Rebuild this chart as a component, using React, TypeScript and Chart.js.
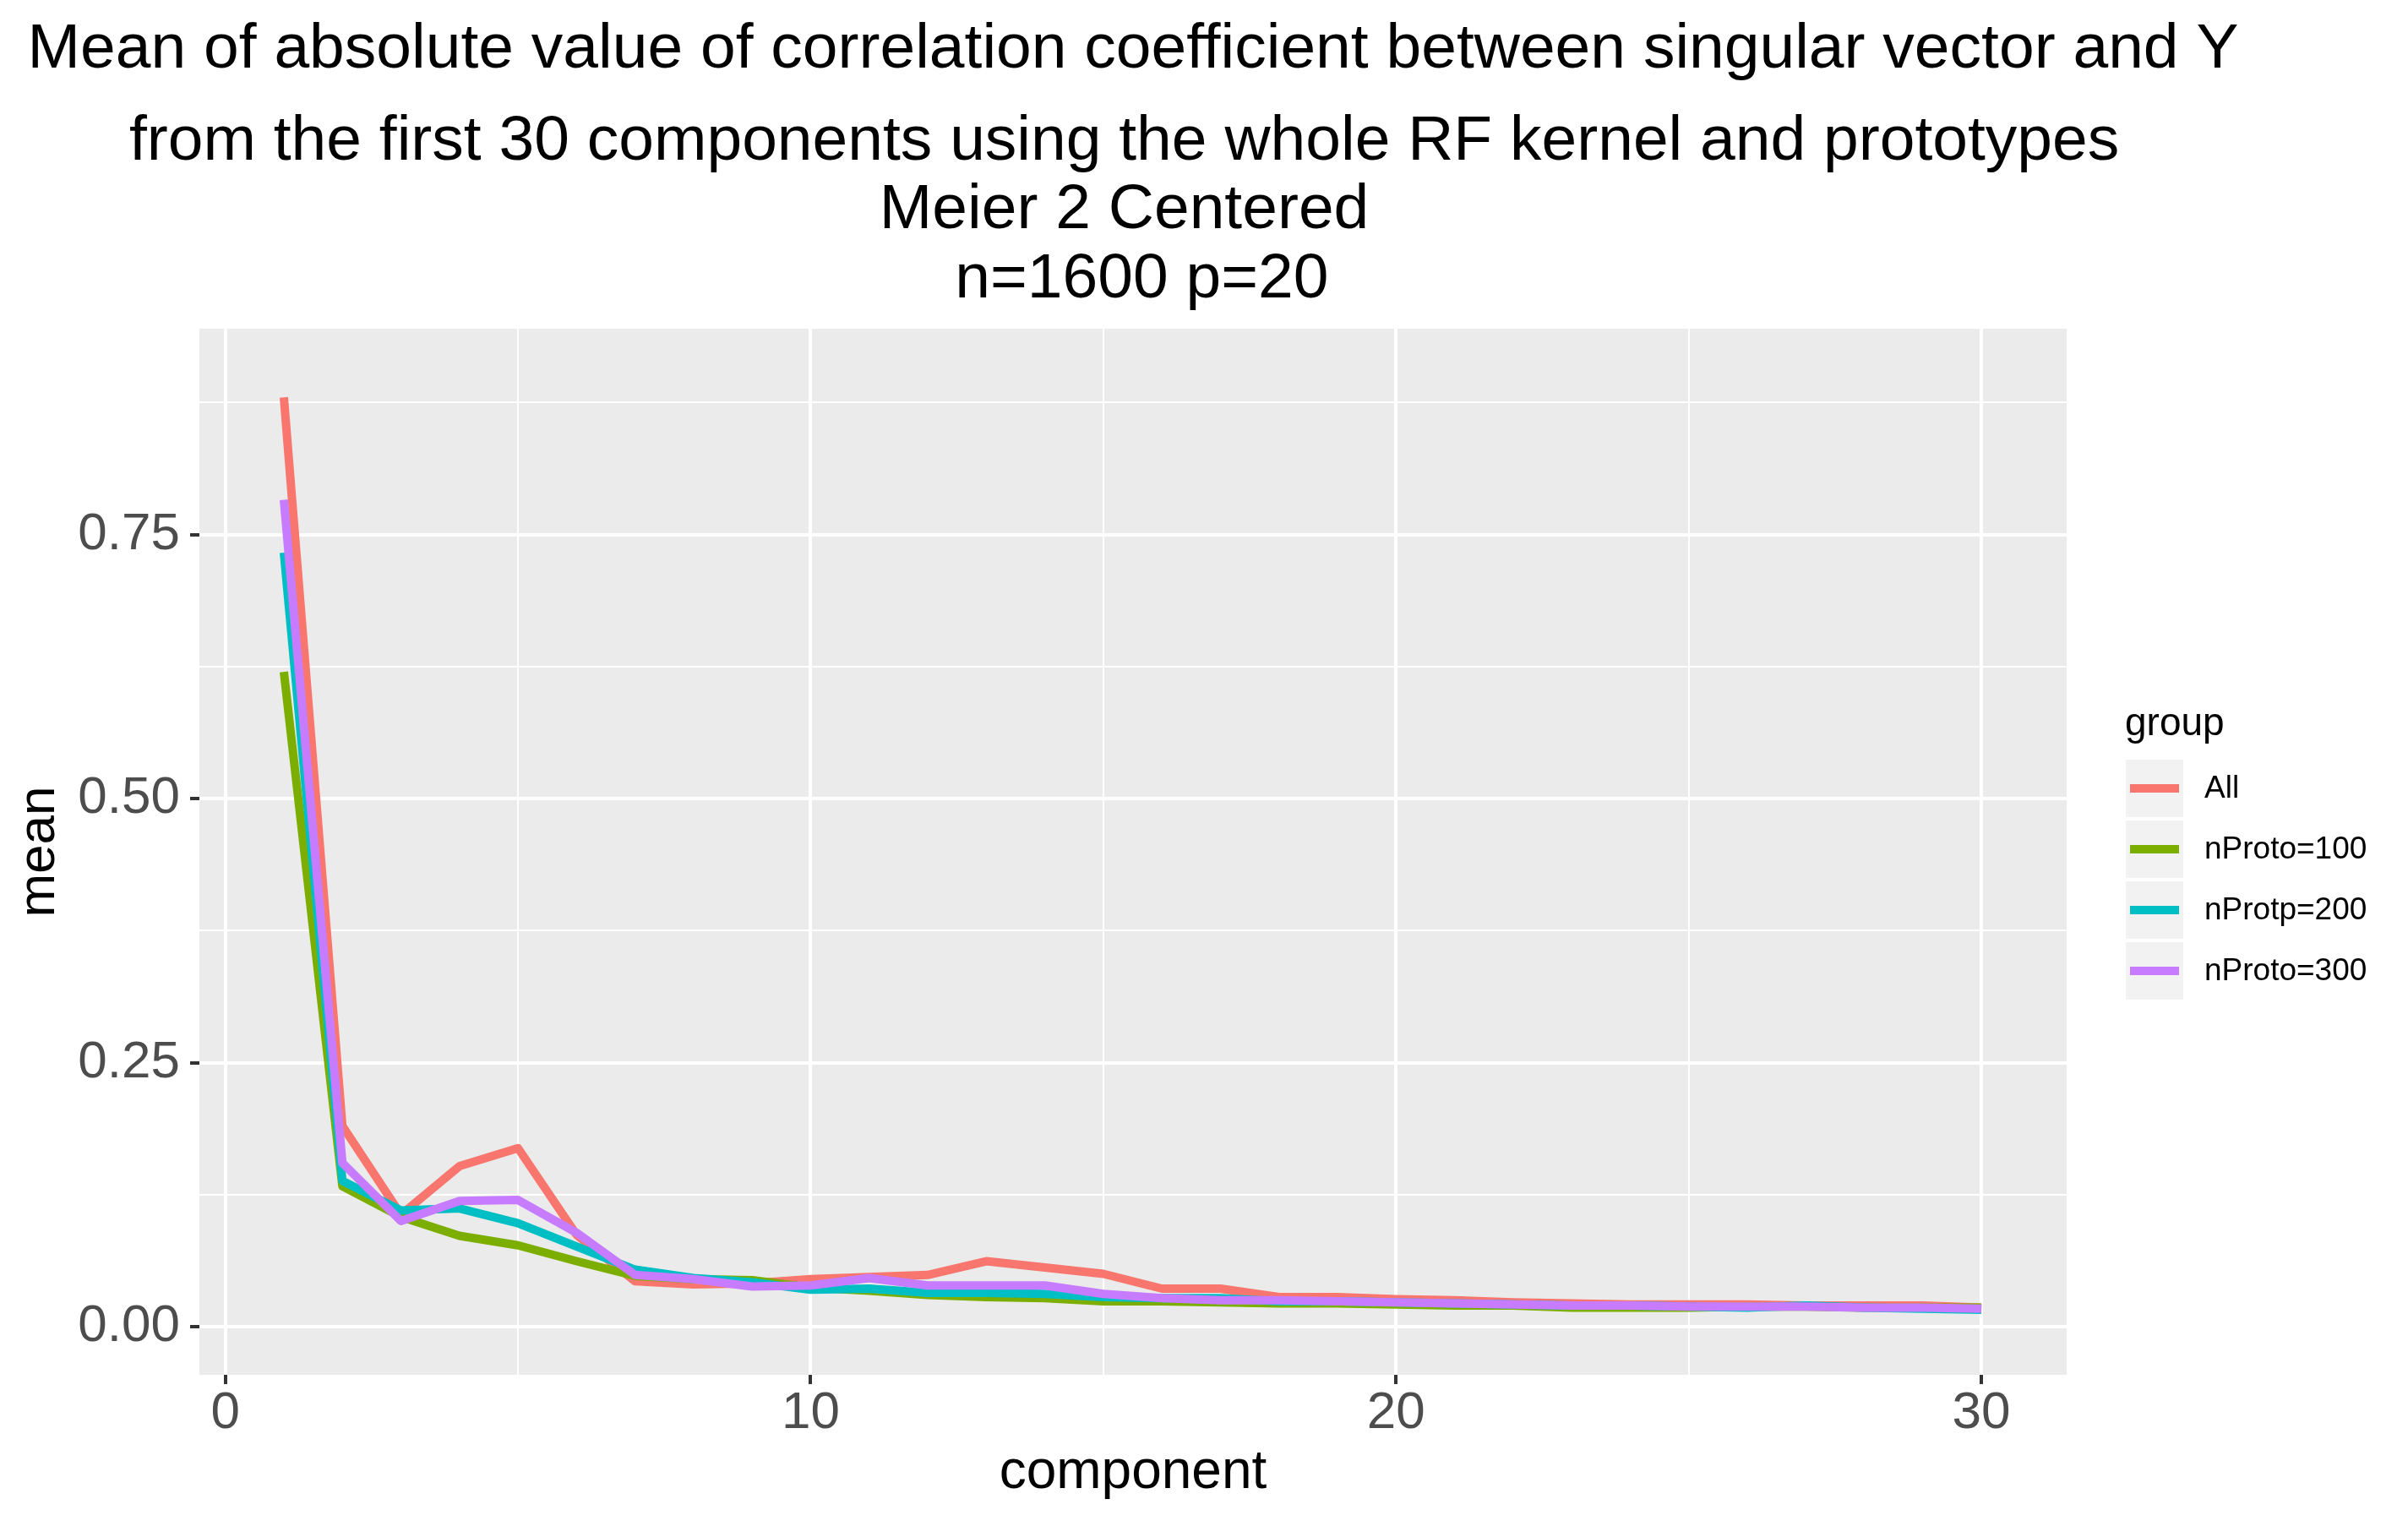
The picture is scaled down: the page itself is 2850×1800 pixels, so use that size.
import React, { useRef, useEffect } from 'react';
import { Chart, registerables } from 'chart.js';

// Register all Chart.js components
Chart.register(...registerables);

const components = [1, 2, 3, 4, 5, 6, 7, 8, 9, 10, 11, 12, 13, 14, 15, 16, 17, 18, 19, 20, 21, 22, 23, 24, 25, 26, 27, 28, 29, 30];

const allMean = [0.880, 0.190, 0.106, 0.152, 0.169, 0.087, 0.043, 0.040, 0.041, 0.045, 0.047, 0.049, 0.062, 0.056, 0.050, 0.036, 0.036, 0.028, 0.028, 0.026, 0.025, 0.023, 0.022, 0.021, 0.021, 0.021, 0.020, 0.020, 0.020, 0.018];
const proto100Mean = [0.620, 0.133, 0.104, 0.086, 0.077, 0.062, 0.048, 0.045, 0.044, 0.037, 0.034, 0.030, 0.028, 0.027, 0.024, 0.024, 0.023, 0.022, 0.022, 0.021, 0.020, 0.020, 0.018, 0.018, 0.018, 0.019, 0.019, 0.018, 0.018, 0.018];
const protp200Mean = [0.733, 0.138, 0.110, 0.112, 0.098, 0.076, 0.054, 0.046, 0.042, 0.035, 0.036, 0.032, 0.032, 0.031, 0.028, 0.027, 0.027, 0.024, 0.024, 0.023, 0.022, 0.021, 0.020, 0.020, 0.019, 0.018, 0.020, 0.018, 0.017, 0.016];
const proto300Mean = [0.783, 0.155, 0.100, 0.119, 0.120, 0.089, 0.049, 0.045, 0.038, 0.039, 0.046, 0.039, 0.039, 0.039, 0.031, 0.027, 0.025, 0.025, 0.024, 0.023, 0.022, 0.021, 0.020, 0.020, 0.019, 0.019, 0.019, 0.018, 0.018, 0.017];

const groupLabels = ['All', 'nProto=100', 'nProtp=200', 'nProto=300'];
const groupColors = ['#F8766D', '#7CAE00', '#00BFC4', '#C77CFF'];
const groupSeries = [allMean, proto100Mean, protp200Mean, proto300Mean];

// grid breaks (major + minor) and labelled major breaks
const xBreaks = [0, 5, 10, 15, 20, 25, 30];
const xMajor = [0, 10, 20, 30];
const yBreaks = [0, 0.125, 0.25, 0.375, 0.5, 0.625, 0.75, 0.875];
const yMajor = [0, 0.25, 0.5, 0.75];

const titleLines = [
  'Mean of absolute value of correlation coefficient between singular vector and Y',
  'from the first 30 components using the whole RF kernel and prototypes ',
  'Meier 2 Centered ',
  ' n=1600 p=20',
];

const FONT = "'Liberation Sans', Arial, Helvetica, sans-serif";

const panelBackground = {
  id: 'panelBackground',
  beforeDraw(chart: Chart) {
    const { ctx, chartArea } = chart;
    ctx.save();
    ctx.fillStyle = '#EBEBEB';
    ctx.fillRect(chartArea.left, chartArea.top, chartArea.right - chartArea.left, chartArea.bottom - chartArea.top);
    ctx.restore();
  },
};

const ggTitle = {
  id: 'ggTitle',
  afterDraw(chart: Chart) {
    const { ctx, chartArea } = chart;
    const cx = (chartArea.left + chartArea.right) / 2;
    const baselines = [80, 189, 270, 352];
    ctx.save();
    ctx.fillStyle = '#000000';
    ctx.font = `75px ${FONT}`;
    ctx.textAlign = 'center';
    ctx.textBaseline = 'alphabetic';
    titleLines.forEach((line, i) => ctx.fillText(line, cx, baselines[i]));
    ctx.restore();
  },
};

const ggLegend = {
  id: 'ggLegend',
  afterDraw(chart: Chart) {
    const { ctx } = chart;
    const left = 2516;
    const keySize = 68;
    const firstTop = 899;
    const step = 72;
    ctx.save();
    ctx.fillStyle = '#000000';
    ctx.font = `46px ${FONT}`;
    ctx.textAlign = 'left';
    ctx.textBaseline = 'alphabetic';
    ctx.fillText('group', left - 1, 870);

    chart.data.datasets.forEach((ds: any, i: number) => {
      const top = firstTop + i * step;
      const cy = top + keySize / 2;
      ctx.fillStyle = '#F2F2F2';
      ctx.fillRect(left, top, keySize, keySize);
      ctx.strokeStyle = ds.borderColor;
      ctx.lineWidth = 10;
      ctx.lineCap = 'butt';
      ctx.beginPath();
      ctx.moveTo(left + 5, cy);
      ctx.lineTo(left + keySize - 5, cy);
      ctx.stroke();
      ctx.fillStyle = '#000000';
      ctx.font = `37px ${FONT}`;
      ctx.textBaseline = 'middle';
      ctx.fillText(ds.label, 2609, cy + 1);
    });
    ctx.restore();
  },
};

const MeanChart: React.FC = () => {
  const chartRef = useRef<HTMLCanvasElement | null>(null);
  const chartInstance = useRef<Chart | null>(null);

  useEffect(() => {
    if (!chartRef.current) return;
    if (chartInstance.current) {
      chartInstance.current.destroy();
    }
    const ctx = chartRef.current.getContext('2d');
    if (!ctx) return;

    chartInstance.current = new Chart(ctx, {
      type: 'line',
      data: {
        datasets: groupLabels.map((label, i) => ({
          label,
          data: components.map((c, j) => ({ x: c, y: groupSeries[i][j] })),
          borderColor: groupColors[i],
          backgroundColor: groupColors[i],
          borderWidth: 10,
          borderJoinStyle: 'round',
          borderCapStyle: 'butt',
          pointRadius: 0,
          pointHoverRadius: 0,
          fill: false,
          tension: 0,
          order: 3 - i, // later groups on top, like ggplot
        })),
      },
      options: {
        responsive: true,
        maintainAspectRatio: false,
        animation: false,
        devicePixelRatio: 1,
        layout: {
          padding: { top: 389, right: 404, left: 0, bottom: 0 },
        },
        plugins: {
          legend: { display: false },
          title: { display: false },
          tooltip: { enabled: false },
        },
        scales: {
          x: {
            type: 'linear',
            min: -0.443,
            max: 31.457,
            afterBuildTicks: (scale: any) => {
              scale.ticks = xBreaks.map((v) => ({ value: v }));
            },
            afterFit: (scale: any) => {
              scale.height = 173;
            },
            border: { display: false },
            grid: {
              color: '#FFFFFF',
              lineWidth: (c: any) => (xMajor.includes(c.tick?.value) ? 4 : 2),
              drawTicks: true,
              tickLength: 11,
              tickWidth: 4,
              tickColor: (c: any) => (xMajor.includes(c.tick?.value) ? '#333333' : 'rgba(0,0,0,0)'),
            },
            ticks: {
              autoSkip: false,
              maxRotation: 0,
              padding: 4,
              color: '#4D4D4D',
              font: { family: FONT, size: 62, lineHeight: 1 },
              callback: (value: any) => (xMajor.includes(Number(value)) ? String(value) : ''),
            },
            title: {
              display: true,
              text: 'component',
              color: '#000000',
              font: { family: FONT, size: 64 },
              padding: { top: 0, bottom: 18 },
            },
          },
          y: {
            type: 'linear',
            min: -0.0456,
            max: 0.945,
            afterBuildTicks: (scale: any) => {
              scale.ticks = yBreaks.map((v) => ({ value: v }));
            },
            afterFit: (scale: any) => {
              scale.width = 236;
            },
            border: { display: false },
            grid: {
              color: '#FFFFFF',
              lineWidth: (c: any) => (yMajor.includes(c.tick?.value) ? 4 : 2),
              drawTicks: true,
              tickLength: 11,
              tickWidth: 4,
              tickColor: (c: any) => (yMajor.includes(c.tick?.value) ? '#333333' : 'rgba(0,0,0,0)'),
            },
            ticks: {
              autoSkip: false,
              padding: 12,
              color: '#4D4D4D',
              font: { family: FONT, size: 62, lineHeight: 1 },
              callback: (value: any) => (yMajor.includes(Number(value)) ? Number(value).toFixed(2) : ''),
            },
            title: {
              display: true,
              text: 'mean',
              color: '#000000',
              font: { family: FONT, size: 62 },
              padding: { top: 10, bottom: 0 },
            },
          },
        },
      },
      plugins: [panelBackground, ggTitle, ggLegend],
    });

    return () => {
      if (chartInstance.current) {
        chartInstance.current.destroy();
        chartInstance.current = null;
      }
    };
  }, []);

  return (
    <div style={{ position: 'absolute', left: 0, top: 0, width: '2850px', height: '1800px', background: '#FFFFFF' }}>
      <canvas ref={chartRef}></canvas>
    </div>
  );
};

export default function App() {
  return <MeanChart />;
}
